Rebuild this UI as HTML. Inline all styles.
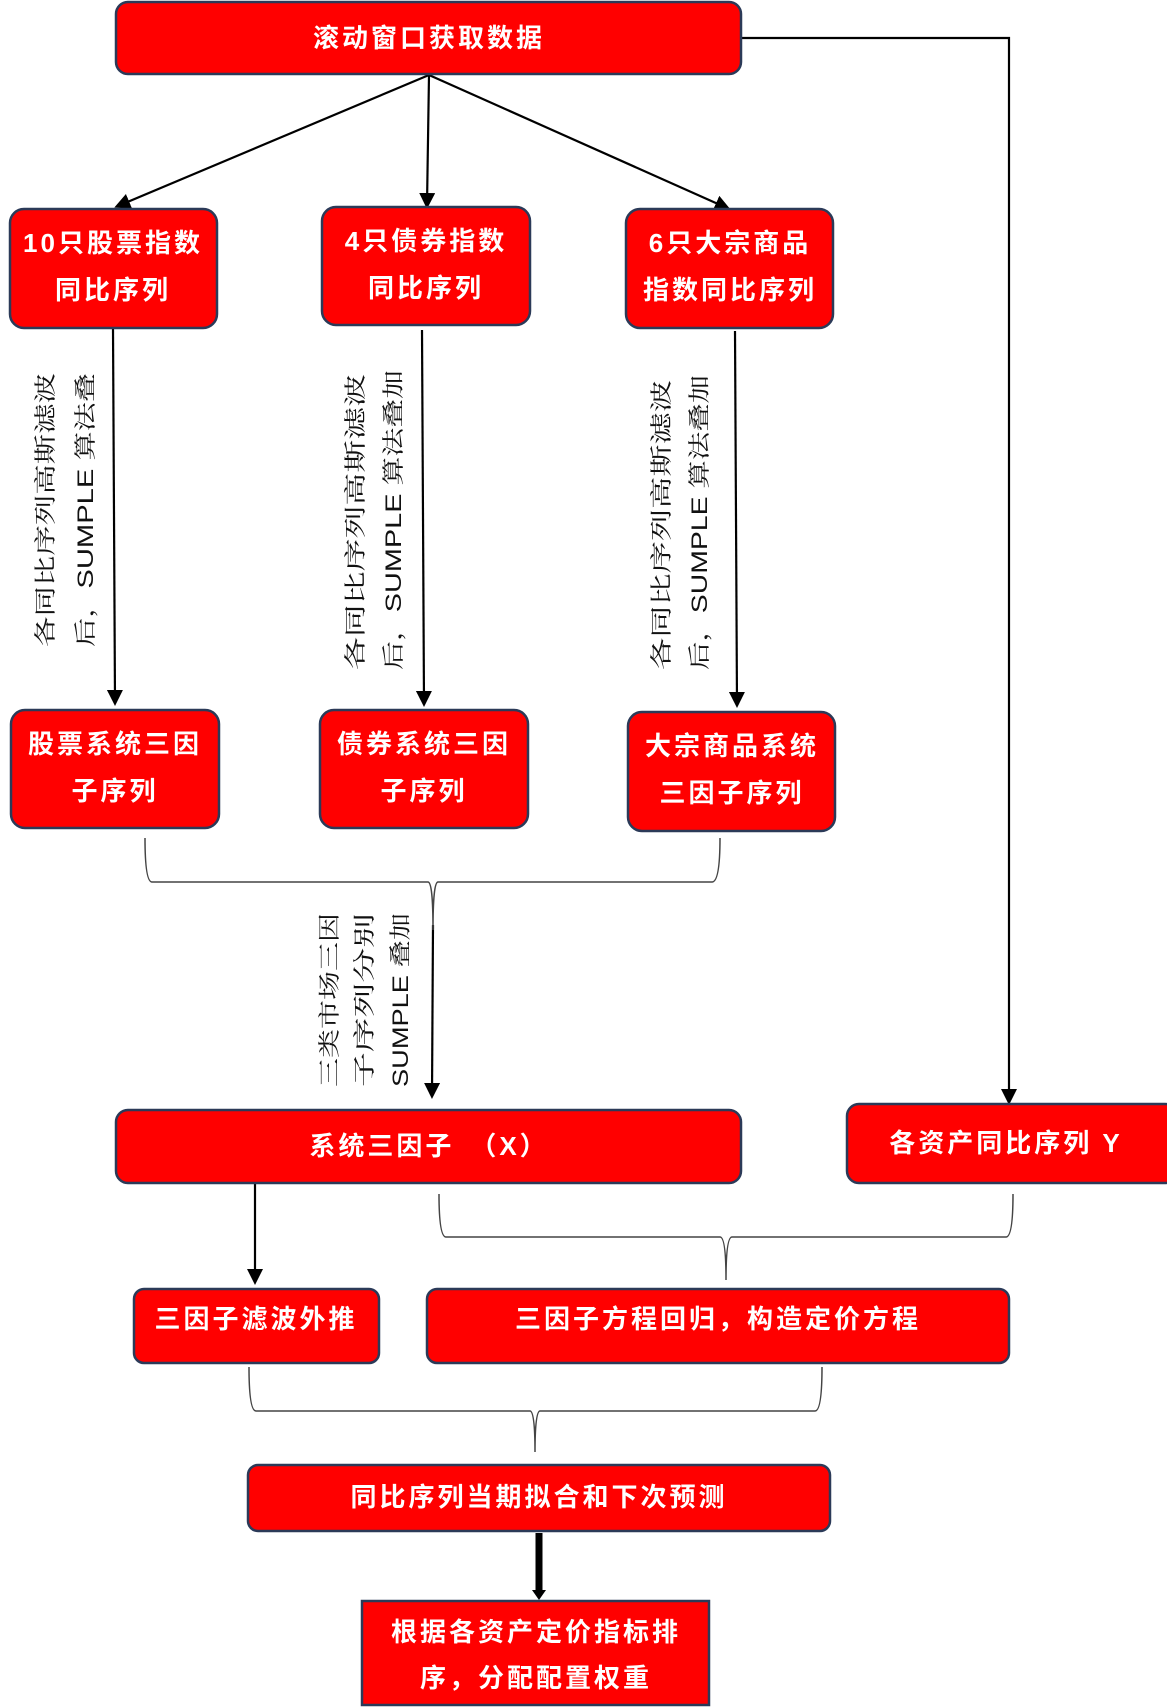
<!DOCTYPE html>
<html><head><meta charset="utf-8"><style>
html,body{margin:0;padding:0;background:#fff;}
svg{display:block;}
.bt{font-family:"Liberation Sans","Noto Sans CJK SC",sans-serif;font-weight:bold;fill:#fff;font-size:26px;text-anchor:middle;letter-spacing:3px;}
.lt{font-family:"Liberation Sans","Noto Serif CJK SC",serif;fill:#111;font-size:22px;}
.bx{fill:#ff0000;stroke:#2b3a58;stroke-width:2.5;}
.ln{stroke:#000;stroke-width:2.2;fill:none;}
.br{stroke:#444;stroke-width:1.5;fill:none;}
</style></head><body>
<svg width="1167" height="1707" viewBox="0 0 1167 1707" xmlns="http://www.w3.org/2000/svg">
<defs>
<marker id="ah2" markerWidth="16" markerHeight="16" refX="12" refY="8" orient="auto" markerUnits="userSpaceOnUse" viewBox="0 0 16 16">
<path d="M0,0 L16,8 L0,16 z" fill="#000"/></marker>
</defs>

<line class="ln" x1="429" y1="75" x2="118" y2="206" marker-end="url(#ah2)"/>
<line class="ln" x1="429" y1="75" x2="427" y2="205" marker-end="url(#ah2)"/>
<line class="ln" x1="429" y1="75" x2="727" y2="208" marker-end="url(#ah2)"/>
<polyline class="ln" points="741,38 1009,38 1009,1101" marker-end="url(#ah2)"/>
<line class="ln" x1="113" y1="329" x2="115" y2="702" marker-end="url(#ah2)"/>
<line class="ln" x1="422" y1="330" x2="424" y2="703" marker-end="url(#ah2)"/>
<line class="ln" x1="735" y1="331" x2="737" y2="704" marker-end="url(#ah2)"/>
<line class="ln" x1="433" y1="925" x2="432" y2="1095" marker-end="url(#ah2)"/>
<line class="ln" x1="255" y1="1184" x2="255" y2="1281" marker-end="url(#ah2)"/>
<line x1="539" y1="1533" x2="539" y2="1593" stroke="#000" stroke-width="7"/>
<path d="M532,1590 L546,1590 L539,1600 z" fill="#000"/>

<path class="br" d="M145,838 Q145,882 152,882 L428,882 Q433,882 433,930 Q433,882 438,882 L712,882 Q720,882 720,838"/>
<path class="br" d="M439,1194 Q439,1237 446,1237 L720,1237 Q726,1237 726,1280 Q726,1237 732,1237 L1006,1237 Q1013,1237 1013,1194"/>
<path class="br" d="M249,1367 Q249,1411 256,1411 L530,1411 Q535,1411 535,1452 Q535,1411 540,1411 L815,1411 Q822,1411 822,1367"/>

<rect class="bx" x="116" y="2" width="625" height="72" rx="12"/>
<text class="bt" x="429" y="47">滚动窗口获取数据</text>

<rect class="bx" x="10" y="209" width="207" height="119" rx="14"/>
<text class="bt" x="113" y="252">10只股票指数</text>
<text class="bt" x="113" y="299">同比序列</text>
<rect class="bx" x="322" y="207" width="208" height="118" rx="14"/>
<text class="bt" x="426" y="250">4只债券指数</text>
<text class="bt" x="426" y="297">同比序列</text>
<rect class="bx" x="626" y="209" width="207" height="119" rx="14"/>
<text class="bt" x="730" y="252">6只大宗商品</text>
<text class="bt" x="730" y="299">指数同比序列</text>

<rect class="bx" x="11" y="710" width="208" height="118" rx="14"/>
<text class="bt" x="115" y="753">股票系统三因</text>
<text class="bt" x="115" y="800">子序列</text>
<rect class="bx" x="320" y="710" width="208" height="118" rx="14"/>
<text class="bt" x="424" y="753">债券系统三因</text>
<text class="bt" x="424" y="800">子序列</text>
<rect class="bx" x="628" y="712" width="207" height="119" rx="14"/>
<text class="bt" x="732" y="755">大宗商品系统</text>
<text class="bt" x="732" y="802">三因子序列</text>

<rect class="bx" x="116" y="1110" width="625" height="73" rx="12"/>
<text class="bt" x="429" y="1155">系统三因子　（X）</text>
<rect class="bx" x="847" y="1104" width="330" height="79" rx="12"/>
<text class="bt" x="1006" y="1152">各资产同比序列 Y</text>

<rect class="bx" x="134" y="1289" width="245" height="74" rx="10"/>
<text class="bt" x="256" y="1328">三因子滤波外推</text>
<rect class="bx" x="427" y="1289" width="582" height="74" rx="10"/>
<text class="bt" x="718" y="1328">三因子方程回归，构造定价方程</text>

<rect class="bx" x="248" y="1465" width="582" height="66" rx="10"/>
<text class="bt" x="539" y="1506">同比序列当期拟合和下次预测</text>

<rect x="362" y="1601" width="347" height="104" fill="#ff0000" stroke="#2b3a58" stroke-width="2.5"/>
<text class="bt" x="536" y="1641">根据各资产定价指标排</text>
<text class="bt" x="536" y="1687">序，分配配置权重</text>

<text class="lt" transform="translate(53,647) rotate(-90)" textLength="274" lengthAdjust="spacingAndGlyphs">各同比序列高斯滤波</text>
<text class="lt" transform="translate(93,647) rotate(-90)" textLength="274" lengthAdjust="spacingAndGlyphs">后，SUMPLE 算法叠</text>
<text class="lt" transform="translate(363,670) rotate(-90)" textLength="296" lengthAdjust="spacingAndGlyphs">各同比序列高斯滤波</text>
<text class="lt" transform="translate(401,670) rotate(-90)" textLength="300" lengthAdjust="spacingAndGlyphs">后，SUMPLE 算法叠加</text>
<text class="lt" transform="translate(669,670) rotate(-90)" textLength="290" lengthAdjust="spacingAndGlyphs">各同比序列高斯滤波</text>
<text class="lt" transform="translate(707,670) rotate(-90)" textLength="295" lengthAdjust="spacingAndGlyphs">后，SUMPLE 算法叠加</text>
<text class="lt" transform="translate(337,1087) rotate(-90)" textLength="174" lengthAdjust="spacingAndGlyphs">三类市场三因</text>
<text class="lt" transform="translate(372,1087) rotate(-90)" textLength="174" lengthAdjust="spacingAndGlyphs">子序列分别</text>
<text class="lt" transform="translate(408,1087) rotate(-90)" textLength="174" lengthAdjust="spacingAndGlyphs">SUMPLE 叠加</text>
</svg>
</body></html>
